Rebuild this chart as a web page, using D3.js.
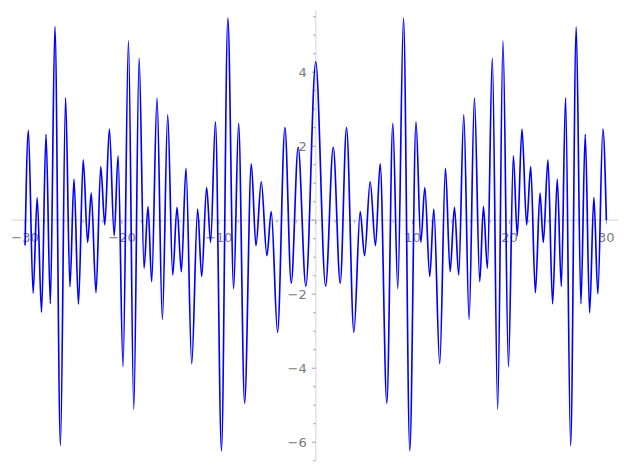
<!DOCTYPE html>
<html>
<head>
<meta charset="utf-8">
<script src="https://cdn.jsdelivr.net/npm/d3@7"></script>
<style>
  html, body { margin: 0; padding: 0; background: #fff; }
  svg { display: block; }
</style>
</head>
<body>
<svg id="chart" width="627" height="470"></svg>
<script>
// Curve samples (local extrema, plus end points)
const xValues = [
  -30.0, -29.66, -29.17, -28.75, -28.3, -27.84, -27.39, -26.92, -26.35, -25.82,
  -25.37, -24.95, -24.49, -24.0, -23.54, -23.17, -22.68, -22.19, -21.77, -21.3,
  -20.8, -20.4, -19.89, -19.33, -18.78, -18.23, -17.72, -17.31, -16.93, -16.38,
  -15.83, -15.28, -14.76, -14.32, -13.87, -13.39, -12.8, -12.19, -11.77, -11.26,
  -10.85, -10.35, -9.73, -9.07, -8.47, -7.96, -7.34, -6.65, -6.17, -5.62,
  -5.04, -4.59, -3.94, -3.18, -2.53, -1.81, -1.02, 0.0,
  1.02, 1.81, 2.53, 3.18, 3.94, 4.59, 5.04, 5.62, 6.17, 6.65,
  7.34, 7.96, 8.47, 9.06, 9.71, 10.35, 10.85, 11.26, 11.77, 12.19,
  12.8, 13.39, 13.87, 14.32, 14.76, 15.28, 15.83, 16.38, 16.93, 17.31,
  17.72, 18.23, 18.78, 19.33, 19.89, 20.4, 20.8, 21.29, 21.77, 22.19,
  22.67, 23.15, 23.49, 23.97, 24.45, 24.93, 25.35, 25.79, 26.31, 26.89,
  27.37, 27.82, 28.27, 28.71, 29.12, 29.64, 30.0
];
const yValues = [
  -0.68, 2.43, -1.97, 0.61, -2.49, 2.32, -2.26, 5.23, -6.09, 3.31,
  -1.8, 1.11, -2.27, 1.63, -0.6, 0.73, -1.96, 1.45, -0.13, 2.46,
  -0.42, 1.74, -3.96, 4.85, -5.11, 4.38, -1.3, 0.37, -1.66, 3.3,
  -2.68, 2.85, -1.48, 0.35, -1.39, 1.4, -3.88, 0.3, -1.52, 0.88,
  -0.6, 2.66, -6.23, 5.46, -1.85, 2.62, -4.95, 1.52, -0.69, 1.04,
  -0.96, 0.23, -3.03, 2.5, -1.7, 1.97, -1.78, 4.28,
  -1.78, 1.97, -1.7, 2.5, -3.03, 0.23, -0.96, 1.04, -0.69, 1.52,
  -4.95, 2.62, -1.85, 5.46, -6.23, 2.66, -0.6, 0.88, -1.52, 0.3,
  -3.88, 1.4, -1.39, 0.35, -1.48, 2.85, -2.68, 3.3, -1.66, 0.37,
  -1.3, 4.38, -5.11, 4.85, -3.96, 1.74, -0.42, 2.46, -0.13, 1.45,
  -1.96, 0.73, -0.6, 1.63, -2.26, 1.11, -1.79, 3.31, -6.1, 5.22,
  -2.26, 2.32, -2.5, 0.62, -1.99, 2.46, 0.0
];
const xTickLabels = [-30, -20, -10, 10, 20, 30];
const yTickLabels = [-6, -4, -2, 2, 4];

const svg = d3.select("#chart");
const x = d3.scaleLinear().domain([-31.35, 31.2]).range([12, 618]);
const y = d3.scaleLinear().domain([-6.48, 5.68]).range([460, 10]);

const axisLine = "#e2e2e2", tickCol = "#8a8a8a", labelCol = "#7a7a7a";
const font = "DejaVu Sans, sans-serif";

// axis lines
svg.append("line").attr("x1", x.range()[0]).attr("x2", x.range()[1])
  .attr("y1", y(0)).attr("y2", y(0)).attr("stroke", axisLine).attr("stroke-width", 1.5);
svg.append("line").attr("x1", x(0)).attr("x2", x(0))
  .attr("y1", y.range()[0]).attr("y2", y.range()[1]).attr("stroke", axisLine).attr("stroke-width", 1.5);

// x ticks
const xMinor = d3.range(-30, 31, 2);
const xg = svg.append("g").attr("transform", `translate(0,${y(0)})`);
xg.selectAll("line.minor").data(xMinor).join("line")
  .attr("x1", d => x(d)).attr("x2", d => x(d))
  .attr("y1", 0).attr("y2", d => d % 10 === 0 ? 4 : 2.5)
  .attr("stroke", tickCol).attr("stroke-width", 0.8);
xg.selectAll("text").data(xTickLabels).join("text")
  .attr("x", d => x(d)).attr("y", 22)
  .attr("text-anchor", "middle")
  .attr("font-family", font).attr("font-size", 13).attr("fill", labelCol)
  .text(d => d < 0 ? "\u2212" + Math.abs(d) : d);

// y ticks
const yMinor = d3.range(-6.5, 5.6, 0.5);
const yg = svg.append("g").attr("transform", `translate(${x(0)},0)`);
yg.selectAll("line").data(yMinor).join("line")
  .attr("x1", d => Math.abs(d % 2) < 1e-9 ? -4 : -2.5).attr("x2", 0)
  .attr("y1", d => y(d)).attr("y2", d => y(d))
  .attr("stroke", tickCol).attr("stroke-width", 0.8);
yg.selectAll("text").data(yTickLabels).join("text")
  .attr("x", -9).attr("y", d => y(d)).attr("dy", "0.36em")
  .attr("text-anchor", "end")
  .attr("font-family", font).attr("font-size", 13).attr("fill", labelCol)
  .text(d => d < 0 ? "\u2212" + Math.abs(d) : d);

// curve
const pts = xValues.map((v, i) => [v, yValues[i]]);
const line = d3.line().x(d => x(d[0])).y(d => y(d[1])).curve(d3.curveMonotoneX);
svg.append("path").datum(pts).attr("d", line)
  .attr("fill", "none").attr("stroke", "#0000ff").attr("stroke-width", 1.65);
</script>
</body>
</html>
